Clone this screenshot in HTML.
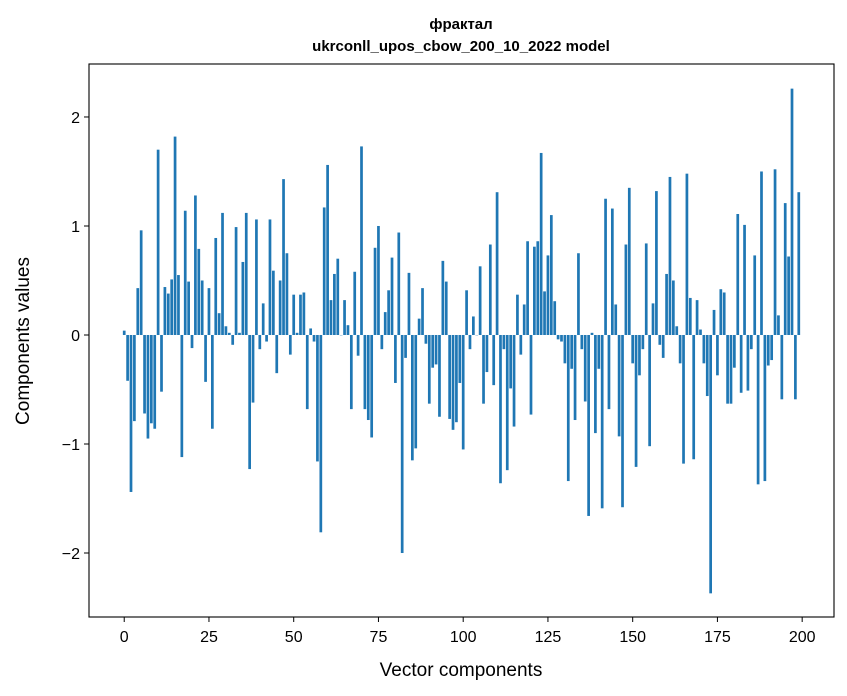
<!DOCTYPE html>
<html><head><meta charset="utf-8"><style>
body{margin:0;background:#fff;}
svg{display:block;font-family:"Liberation Sans","DejaVu Sans",sans-serif;}
</style></head><body>
<svg id="chart" width="847" height="696" viewBox="0 0 847 696" xmlns="http://www.w3.org/2000/svg">
<rect width="847" height="696" fill="#fff"/>
<text x="461" y="29" text-anchor="middle" font-size="15" font-weight="bold">фрактал</text>
<text x="461" y="51" text-anchor="middle" font-size="15" font-weight="bold">ukrconll_upos_cbow_200_10_2022 model</text>
<g id="bars"></g>
<g id="xticks"></g>
<g id="yticks"></g>
<rect x="89" y="64" width="745" height="553" fill="none" stroke="#000" stroke-width="1.1"/>
<text x="461" y="676" text-anchor="middle" font-size="19">Vector components</text>
<text transform="translate(29,341) rotate(-90)" text-anchor="middle" font-size="19">Components values</text>
</svg>
<script>
const values = [
0.04,-0.42,-1.44,-0.79,0.43,0.96,-0.72,-0.95,-0.81,-0.86,
1.70,-0.52,0.44,0.38,0.51,1.82,0.55,-1.12,1.14,0.49,
-0.12,1.28,0.79,0.50,-0.43,0.43,-0.86,0.89,0.20,1.12,
0.08,0.02,-0.09,0.99,0.02,0.67,1.12,-1.23,-0.62,1.06,
-0.13,0.29,-0.06,1.06,0.59,-0.35,0.50,1.43,0.75,-0.18,
0.37,0.02,0.37,0.39,-0.68,0.06,-0.06,-1.16,-1.81,1.17,
1.56,0.32,0.56,0.70,0.0,0.32,0.09,-0.68,0.58,-0.19,
1.73,-0.68,-0.78,-0.94,0.80,1.00,-0.13,0.21,0.41,0.71,
-0.44,0.94,-2.00,-0.21,0.57,-1.15,-1.04,0.15,0.43,-0.08,
-0.63,-0.30,-0.27,-0.75,0.68,0.49,-0.77,-0.87,-0.80,-0.44,
-1.05,0.41,-0.13,0.17,0.0,0.63,-0.63,-0.34,0.83,-0.46,
1.31,-1.36,-0.13,-1.24,-0.49,-0.84,0.37,-0.18,0.28,0.86,
-0.73,0.81,0.86,1.67,0.40,0.73,1.10,0.31,-0.04,-0.06,
-0.26,-1.34,-0.31,-0.78,0.75,-0.13,-0.61,-1.66,0.02,-0.90,
-0.31,-1.59,1.25,-0.68,1.16,0.28,-0.93,-1.58,0.83,1.35,
-0.26,-1.21,-0.37,-0.13,0.84,-1.02,0.29,1.32,-0.09,-0.21,
0.56,1.45,0.50,0.08,-0.26,-1.18,1.48,0.34,-1.14,0.32,
0.05,-0.26,-0.56,-2.37,0.23,-0.37,0.42,0.39,-0.63,-0.63,
-0.30,1.11,-0.53,1.01,-0.51,-0.13,0.73,-1.37,1.50,-1.34,
-0.28,-0.23,1.52,0.18,-0.59,1.21,0.72,2.26,-0.59,1.31
];
const xTicks = [0,25,50,75,100,125,150,175,200];
const yTicks = [-2,-1,0,1,2];
const yTickLabels = ["\u22122","\u22121","0","1","2"];

const L=89,R=834,T=64,B=617;
const xMin=-10.39,xMax=209.39,yMin=-2.587,yMax=2.486;
const sx=v=>L+(v-xMin)/(xMax-xMin)*(R-L);
const sy=v=>B-(v-yMin)/(yMax-yMin)*(B-T);
const NS="http://www.w3.org/2000/svg";
const bars=document.getElementById('bars');
values.forEach((v,i)=>{
  const r=document.createElementNS(NS,'rect');
  const x0=sx(i-0.4),x1=sx(i+0.4);
  const y0=sy(Math.max(v,0)),y1=sy(Math.min(v,0));
  r.setAttribute('x',x0);r.setAttribute('width',x1-x0);
  r.setAttribute('y',y0);r.setAttribute('height',Math.max(y1-y0,0.3));
  r.setAttribute('fill','#1f77b4');
  
  
  bars.appendChild(r);
});
const xg=document.getElementById('xticks');
xTicks.forEach(t=>{
  const x=sx(t);
  const l=document.createElementNS(NS,'line');
  l.setAttribute('x1',x);l.setAttribute('x2',x);l.setAttribute('y1',B);l.setAttribute('y2',B+5);
  l.setAttribute('stroke','#000');
  
  
  xg.appendChild(l);
  const tx=document.createElementNS(NS,'text');
  tx.setAttribute('x',x);tx.setAttribute('y',B+25);tx.setAttribute('text-anchor','middle');tx.setAttribute('font-size','16');
  tx.textContent=t;
  
  
  xg.appendChild(tx);
});
const yg=document.getElementById('yticks');
yTicks.forEach((t,i)=>{
  const y=sy(t);
  const l=document.createElementNS(NS,'line');
  l.setAttribute('x1',L-5);l.setAttribute('x2',L);l.setAttribute('y1',y);l.setAttribute('y2',y);
  l.setAttribute('stroke','#000');
  
  
  yg.appendChild(l);
  const tx=document.createElementNS(NS,'text');
  tx.setAttribute('x',L-9);tx.setAttribute('y',y+6);tx.setAttribute('text-anchor','end');tx.setAttribute('font-size','16');
  tx.textContent=yTickLabels[i];
  
  
  yg.appendChild(tx);
});
</script>
</body></html>
